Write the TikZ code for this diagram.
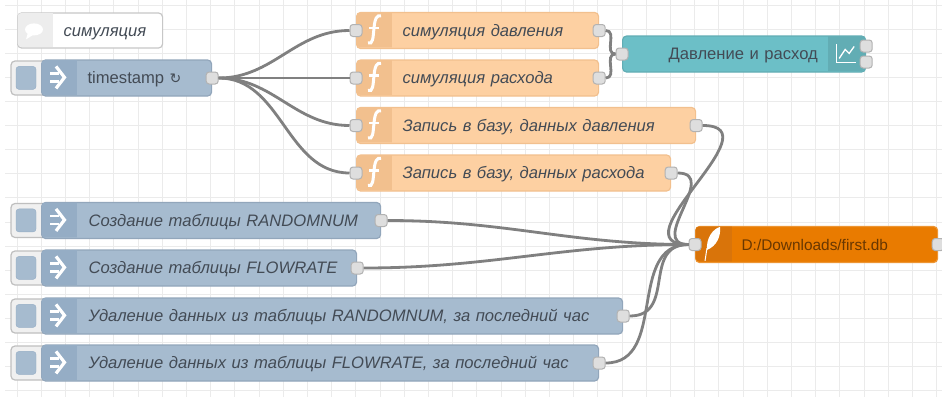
\documentclass[tikz,border=0pt]{standalone}
\usepackage{fontspec}
\setmainfont{Liberation Sans}
\newfontfamily\symfont{DejaVu Sans}
\usetikzlibrary{positioning}

\definecolor{injectblue}{HTML}{A6BBCF}
\definecolor{injectdark}{HTML}{95ADC5}
\definecolor{funcpeach}{HTML}{FDD0A2}
\definecolor{funcdark}{HTML}{F2C08E}
\definecolor{chartteal}{HTML}{6CBFC7}
\definecolor{chartdark}{HTML}{62ADB4}
\definecolor{dborange}{HTML}{E97B00}
\definecolor{dbdark}{HTML}{D9740A}
\definecolor{labelgrey}{HTML}{434B55}

\newcommand{\injecticon}[1]{%
	\begin{scope}[shift={(#1.north west)}]
	\clip[rounded corners=3.5pt] (.6,.6) rectangle (60,35.4);
	\fill[injectdark] (0,0) rectangle (36,36);
	\draw[white,line width=2.4pt] (9,14)--(18,14) (9,22)--(18,22);
	\draw[white,line width=3.2pt] (15,7)--(23.5,18)--(15,29);
	\end{scope}
}
\newcommand{\funcicon}[1]{%
	\begin{scope}[shift={(#1.north west)}]
	\clip[rounded corners=3.5pt] (.6,.6) rectangle (60,35.4);
	\fill[funcdark] (0,0) rectangle (36,36);
	\draw[white,line width=3pt] (12,31) .. controls (17,33) and (17,26) .. (18,16) .. controls (19,6) and (21,3) .. (25,4);
	\draw[white,line width=2.4pt] (13,16)--(23,16);
	\end{scope}
}
\newcommand{\btnsquare}[1]{%
	\fill[injectblue,draw=injectdark,rounded corners=3pt]
		([xshift=-13pt,yshift=-6pt]#1.north) rectangle ++(20,23);
}

\tikzset{
	bar/.style={rectangle,draw=#1,line width=1.2pt,rounded corners=4pt,minimum height=36pt,
		inner xsep=0pt,inner ysep=0pt,anchor=west,align=left,text=labelgrey,text height=12pt,text depth=1pt},
	inject node/.style={bar=injectdark!85!gray,fill=injectblue,font=\fontsize{16.6}{19}\selectfont\itshape,
		execute at begin node={\hspace*{47pt}}},
	func node/.style={bar=funcdark,fill=funcpeach,font=\fontsize{16.6}{19}\selectfont\itshape,
		execute at begin node={\hspace*{46pt}}},
	inject button/.style={rectangle,draw=black!25,fill=black!6,line width=1.2pt,rounded corners=4pt,
		minimum width=36pt,minimum height=34pt,inner sep=0pt},
	port/.style={rectangle,draw=black!30,fill=black!13,line width=1pt,rounded corners=3pt,
		minimum size=12pt,inner sep=0pt},
	wire/.style={draw=black!50,line width=2.8pt,out=0,in=180},
	every loop/.style={}
}

\begin{document}
\begin{tikzpicture}[x=1pt,y=-1pt]
	\useasboundingbox (0,0) rectangle (942,397);
	\fill[white] (0,0) rectangle (942,397);
	
	\foreach \gx in {0,...,38}
		\draw[black!8,line width=0.7pt] (17+24.2*\gx,0) -- (17+24.2*\gx,397);
	\foreach \gy in {0,...,16}
		\draw[black!8,line width=0.7pt] (5,5+24.1*\gy) -- (942,5+24.1*\gy);
	
	\node[bar=black!22,fill=white,text width=145pt,minimum height=35pt,font=\fontsize{16.6}{19}\selectfont\itshape,
		execute at begin node={\hspace*{46pt}}] (simnote) at (17,30.5) {симуляция};
	\begin{scope}[shift={(simnote.north west)}]
		\clip[rounded corners=3.5pt] (.6,.6) rectangle (60,34.4);
		\fill[black!7] (0,0) rectangle (36,36);
		\fill[white] (17,17) ellipse (9 and 6);
		\fill[white] (11,20) -- (9,27) -- (17,22) -- cycle;
	\end{scope}
	
	\node[inject button] (tsbtn) at (29,78) {};
	\btnsquare{tsbtn}
	\node[bar=injectdark!85!gray,fill=injectblue,text width=170pt,font=\fontsize{16.6}{19}\selectfont,
		execute at begin node={\hspace*{46pt}}] (ts) at (41,78) {timestamp {\symfont\fontsize{14}{19}\selectfont ↻}};
	\injecticon{ts}
	\node[inject button] (rndbtn) at (29,220.5) {};
	\btnsquare{rndbtn}
	\node[inject node,text width=339pt] (rndtable) at (41,220.5) {Создание таблицы RANDOMNUM};
	\injecticon{rndtable}
	\node[inject button] (flowbtn) at (29,268) {};
	\btnsquare{flowbtn}
	\node[inject node,text width=315pt] (flowtable) at (41,268) {Создание таблицы FLOWRATE};
	\injecticon{flowtable}
	\node[inject button] (delrndbtn) at (29,316) {};
	\btnsquare{delrndbtn}
	\node[inject node,text width=581pt] (delrnd) at (41,316) {Удаление данных из таблицы RANDOMNUM, за последний час};
	\injecticon{delrnd}
	\node[inject button] (delflowbtn) at (29,363) {};
	\btnsquare{delflowbtn}
	\node[inject node,text width=557pt] (delflow) at (41,363) {Удаление данных из таблицы FLOWRATE, за последний час};
	\injecticon{delflow}
	
	\node[func node,text width=242pt] (simpress) at (356,30.5) {симуляция давления};
	\funcicon{simpress}
	\node[func node,text width=242pt] (simflow) at (356,78) {симуляция расхода};
	\funcicon{simflow}
	\node[func node,text width=339pt] (savepress) at (356,125.5) {Запись в базу, данных давления};
	\funcicon{savepress}
	\node[func node,text width=314pt] (saveflow) at (356,173) {Запись в базу, данных расхода};
	\funcicon{saveflow}
	
	\node[bar=chartdark,fill=chartteal,text width=243pt,font=\fontsize{16.6}{19}\selectfont,
		execute at begin node={\hspace*{46pt}}] (chart) at (622,54) {Давление и расход};
	\begin{scope}[shift={(chart.north east)}]
		\clip[rounded corners=3.5pt] (-60,.6) rectangle (-.6,35.4);
		\fill[chartdark] (-38,0) rectangle (0,36);
		\draw[white,line width=1pt] (-30,9) -- (-30,27) -- (-10,27);
		\draw[white,line width=1.3pt] (-27,23) -- (-21,14) -- (-17,18) -- (-12,11);
	\end{scope}
	
	\node[bar=dborange!80!white,fill=dborange,text width=242pt,font=\fontsize{15.4}{19}\selectfont,text=black!55!dborange,
		execute at begin node={\hspace*{46pt}}] (db) at (695,244.5) {D:/Downloads/first.db};
	\begin{scope}[shift={(db.north west)}]
		\clip[rounded corners=3.5pt] (.6,.6) rectangle (60,35.4);
		\fill[dbdark] (0,0) rectangle (37,36);
		\fill[white] (12,24) .. controls (11,12) and (18,3) .. (25,1) .. controls (26,10) and (22,20) .. (12,24);
		\draw[white,line width=1pt] (10,35) -- (12,22);
	\end{scope}
	
	% ports
	\node[port] (tsout) at (ts.east) {};
	\node[port] (rndout) at (rndtable.east) {};
	\node[port] (flowout) at (flowtable.east) {};
	\node[port] (delrndout) at (delrnd.east) {};
	\node[port] (delflowout) at (delflow.east) {};
	\node[port] (simpressin) at (simpress.west) {};
	\node[port] (simpressout) at (simpress.east) {};
	\node[port] (simflowin) at (simflow.west) {};
	\node[port] (simflowout) at (simflow.east) {};
	\node[port] (savepressin) at (savepress.west) {};
	\node[port] (savepressout) at (savepress.east) {};
	\node[port] (saveflowin) at (saveflow.west) {};
	\node[port] (saveflowout) at (saveflow.east) {};
	\node[port] (chartin) at (chart.west) {};
	\node[port] (chartouta) at ([yshift=8pt]chart.east) {};
	\node[port] (chartoutb) at ([yshift=-8pt]chart.east) {};
	\node[port] (dbin) at (db.west) {};
	\node[port] (dbout) at (db.east) {};
	
	\path[wire]
	(tsout) edge (simpressin)
	(tsout) edge (simflowin)
	(tsout) edge (savepressin)
	(tsout) edge (saveflowin)
	(simpressout) edge[looseness=1.2] (chartin)
	(simflowout) edge[looseness=1.2] (chartin)
	
	(rndout) edge (dbin)
	(flowout) edge (dbin)
	(savepressout) edge[looseness=1.6] (dbin)
	(saveflowout) edge[looseness=1.5] (dbin)
	(delrndout) edge[looseness=1.3] (dbin)
	(delflowout) edge[looseness=1.1] (dbin);
	
\end{tikzpicture}
\end{document}
